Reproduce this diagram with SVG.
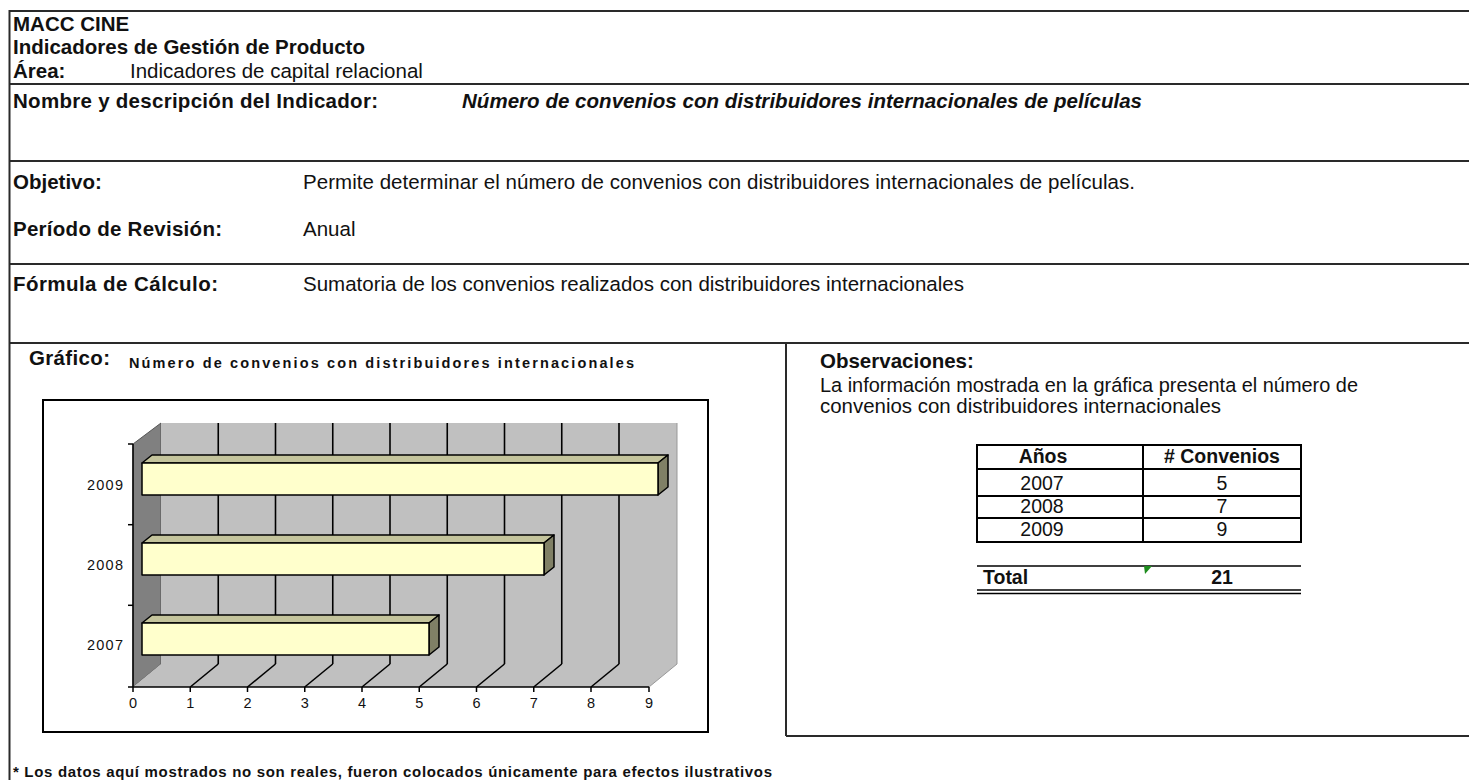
<svg xmlns="http://www.w3.org/2000/svg" width="1469" height="780" viewBox="0 0 1469 780">
<style>
text{font-family:"Liberation Sans",Arial,sans-serif;fill:#111}
.b{font-weight:bold}
.h{font-size:20.5px}
.bi{font-weight:bold;font-style:italic}
.frame{stroke:#2a2a2a;stroke-width:2;fill:none}
.grid{stroke:#000;stroke-width:1.6;fill:none}
.bar{stroke:#000;stroke-width:1.5;stroke-linejoin:round}
.ax{font-size:14.5px;fill:#0a0a1a}
.tb{font-size:19.5px}
</style>
<rect width="1469" height="780" fill="#fff"/>
<g id="frame">
<line class="frame" x1="9.5" y1="11" x2="1469" y2="11"/>
<line class="frame" x1="9.5" y1="84" x2="1469" y2="84"/>
<line class="frame" x1="9.5" y1="161" x2="1469" y2="161"/>
<line class="frame" x1="9.5" y1="264" x2="1469" y2="264"/>
<line class="frame" x1="9.5" y1="343" x2="1469" y2="343"/>
<line class="frame" x1="9.5" y1="10" x2="9.5" y2="780"/>
<line class="frame" x1="786" y1="343" x2="786" y2="736"/>
<line class="frame" x1="786" y1="736" x2="1469" y2="736"/>
</g>
<g id="header">
<text class="b h" x="13" y="31">MACC CINE</text>
<text class="b h" x="13" y="54">Indicadores de Gestión de Producto</text>
<text class="b h" x="13" y="78">Área:</text>
<text class="h" x="130" y="78">Indicadores de capital relacional</text>
</g>
<g id="nombre">
<text class="b h" x="13" y="108" textLength="365" lengthAdjust="spacing">Nombre y descripción del Indicador:</text>
<text class="bi h" x="462" y="108" textLength="680" lengthAdjust="spacing">Número de convenios con distribuidores internacionales de películas</text>
</g>
<g id="objetivo">
<text class="b h" x="13" y="189">Objetivo:</text>
<text class="h" x="303" y="189" textLength="832" lengthAdjust="spacing">Permite determinar el número de convenios con distribuidores internacionales de películas.</text>
</g>
<g id="periodo">
<text class="b h" x="13" y="236" textLength="209" lengthAdjust="spacing">Período de Revisión:</text>
<text class="h" x="303" y="236">Anual</text>
</g>
<g id="formula">
<text class="b h" x="13" y="291" textLength="205" lengthAdjust="spacing">Fórmula de Cálculo:</text>
<text class="h" x="303" y="291">Sumatoria de los convenios realizados con distribuidores internacionales</text>
</g>
<g id="grafico">
<text class="b h" x="29" y="365" textLength="81" lengthAdjust="spacing">Gráfico:</text>
<text class="b" x="129" y="368" font-size="14.5" textLength="505" lengthAdjust="spacing">Número de convenios con distribuidores internacionales</text>
<rect x="43" y="400" width="665" height="332" fill="#fff" stroke="#000" stroke-width="2"/>
<polygon points="133,444 161,423 161,664 133,687" fill="#808080" stroke="#555" stroke-width="1"/>
<rect x="161" y="423" width="516" height="241" fill="#C0C0C0"/>
<polygon points="133,687 161,664 677,664 649,687" fill="#C0C0C0"/>
<line x1="677" y1="423" x2="677" y2="664" stroke="#999" stroke-width="1"/>
<line x1="649" y1="687" x2="677" y2="664" stroke="#999" stroke-width="1"/>
<g class="grid">
<line x1="218.25" y1="423" x2="218.25" y2="664"/>
<line x1="275.5" y1="423" x2="275.5" y2="664"/>
<line x1="332.75" y1="423" x2="332.75" y2="664"/>
<line x1="390" y1="423" x2="390" y2="664"/>
<line x1="447.25" y1="423" x2="447.25" y2="664"/>
<line x1="504.5" y1="423" x2="504.5" y2="664"/>
<line x1="561.75" y1="423" x2="561.75" y2="664"/>
<line x1="619" y1="423" x2="619" y2="664"/>
<line x1="190.25" y1="687" x2="218.25" y2="664"/>
<line x1="247.5" y1="687" x2="275.5" y2="664"/>
<line x1="304.75" y1="687" x2="332.75" y2="664"/>
<line x1="362" y1="687" x2="390" y2="664"/>
<line x1="419.25" y1="687" x2="447.25" y2="664"/>
<line x1="476.5" y1="687" x2="504.5" y2="664"/>
<line x1="533.75" y1="687" x2="561.75" y2="664"/>
<line x1="591" y1="687" x2="619" y2="664"/>
</g>
<g id="bar2009" class="bar">
<polygon points="142,463 152,455 668,455 658,463" fill="#C4C49C"/>
<polygon points="658,463 668,455 668,487 658,495" fill="#808066"/>
<rect x="142" y="463" width="516" height="32" fill="#FFFFCC"/>
</g>
<g id="bar2008" class="bar">
<polygon points="142,543 152,535 554,535 544,543" fill="#C4C49C"/>
<polygon points="544,543 554,535 554,567 544,575" fill="#808066"/>
<rect x="142" y="543" width="402" height="32" fill="#FFFFCC"/>
</g>
<g id="bar2007" class="bar">
<polygon points="142,623 152,615 439,615 429,623" fill="#C4C49C"/>
<polygon points="429,623 439,615 439,647 429,655" fill="#808066"/>
<rect x="142" y="623" width="287" height="32" fill="#FFFFCC"/>
</g>
<g stroke="#000" stroke-width="1.5">
<line x1="133" y1="444" x2="133" y2="687"/>
<line x1="133" y1="687" x2="649" y2="687"/>
<line x1="128" y1="444" x2="133" y2="444"/>
<line x1="128" y1="524.7" x2="133" y2="524.7"/>
<line x1="128" y1="605.3" x2="133" y2="605.3"/>
<line x1="128" y1="687" x2="133" y2="687"/>
<line x1="133" y1="687" x2="133" y2="692"/>
<line x1="190.25" y1="687" x2="190.25" y2="692"/>
<line x1="247.5" y1="687" x2="247.5" y2="692"/>
<line x1="304.75" y1="687" x2="304.75" y2="692"/>
<line x1="362" y1="687" x2="362" y2="692"/>
<line x1="419.25" y1="687" x2="419.25" y2="692"/>
<line x1="476.5" y1="687" x2="476.5" y2="692"/>
<line x1="533.75" y1="687" x2="533.75" y2="692"/>
<line x1="591" y1="687" x2="591" y2="692"/>
<line x1="649" y1="687" x2="649" y2="692"/>
</g>
<g class="ax">
<text x="87" y="490" textLength="36" lengthAdjust="spacing">2009</text>
<text x="87" y="570" textLength="36" lengthAdjust="spacing">2008</text>
<text x="87" y="650" textLength="36" lengthAdjust="spacing">2007</text>
</g>
<g class="ax" text-anchor="middle">
<text x="133" y="708">0</text>
<text x="190.25" y="708">1</text>
<text x="247.5" y="708">2</text>
<text x="304.75" y="708">3</text>
<text x="362" y="708">4</text>
<text x="419.25" y="708">5</text>
<text x="476.5" y="708">6</text>
<text x="533.75" y="708">7</text>
<text x="591" y="708">8</text>
<text x="649" y="708">9</text>
</g>
</g>
<g id="observaciones">
<text class="b h" x="820" y="368">Observaciones:</text>
<text class="h" x="820" y="392" textLength="538" lengthAdjust="spacingAndGlyphs">La información mostrada en la gráfica presenta el número de</text>
<text class="h" x="820" y="413" textLength="401" lengthAdjust="spacingAndGlyphs">convenios con distribuidores internacionales</text>
</g>
<g id="tabla">
<rect x="977" y="445" width="324" height="97" fill="none" stroke="#000" stroke-width="2"/>
<line x1="1143" y1="445" x2="1143" y2="542" stroke="#000" stroke-width="2"/>
<line x1="977" y1="469" x2="1301" y2="469" stroke="#000" stroke-width="2"/>
<line x1="977" y1="496" x2="1301" y2="496" stroke="#000" stroke-width="2"/>
<line x1="977" y1="518" x2="1301" y2="518" stroke="#000" stroke-width="2"/>
<g class="tb" text-anchor="middle">
<text class="b" x="1043" y="463">Años</text>
<text class="b" x="1222" y="463"># Convenios</text>
<text x="1042" y="490">2007</text>
<text x="1222" y="490">5</text>
<text x="1042" y="513">2008</text>
<text x="1222" y="513">7</text>
<text x="1042" y="536">2009</text>
<text x="1222" y="536">9</text>
</g>
<line x1="977" y1="566" x2="1301" y2="566" stroke="#000" stroke-width="1.5"/>
<line x1="977" y1="590" x2="1301" y2="590" stroke="#000" stroke-width="1.5"/>
<line x1="977" y1="593.5" x2="1301" y2="593.5" stroke="#000" stroke-width="1.5"/>
<polygon points="1144,566 1152,566 1145,574" fill="#1E8C1E"/>
<text class="b tb" x="983" y="584">Total</text>
<text class="b tb" x="1222" y="584" text-anchor="middle">21</text>
</g>
<g id="nota">
<text class="b" x="13" y="777" font-size="15" textLength="759" lengthAdjust="spacing">* Los datos aquí mostrados no son reales, fueron colocados únicamente para efectos ilustrativos</text>
</g>
</svg>
